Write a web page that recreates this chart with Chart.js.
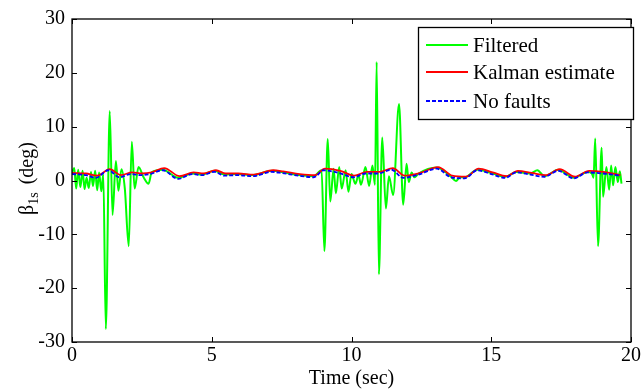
<!DOCTYPE html>
<html>
<head>
<meta charset="utf-8">
<script src="https://cdn.jsdelivr.net/npm/chart.js@4.4.0/dist/chart.umd.min.js"></script>
<style>
html,body{margin:0;padding:0;background:#fff;}
#wrap{width:643px;height:391px;}
</style>
</head>
<body>
<div id="wrap"><canvas id="c" width="643" height="391"></canvas></div>
<script>
// ---- data ----
const seriesNames = ["Filtered", "Kalman estimate", "No faults"];
const xTicks = [0, 5, 10, 15, 20];
const yTicks = [-30, -20, -10, 0, 10, 20, 30];

const tFiltered = [0.00,0.08,0.15,0.22,0.30,0.38,0.45,0.52,0.60,0.68,0.75,0.83,0.90,0.97,1.05,1.12,1.21,1.35,1.45,1.57,1.66,1.77,1.89,2.03,2.14,2.24,2.38,2.56,2.74,2.85,3.25,3.80,4.30,4.65,5.10,5.45,5.90,6.45,7.15,7.50,8.10,8.65,8.93,9.03,9.15,9.24,9.36,9.44,9.56,9.65,9.79,9.89,10.00,10.14,10.25,10.34,10.50,10.63,10.75,10.84,10.90,10.98,11.10,11.23,11.34,11.49,11.70,11.85,11.97,12.05,12.15,12.25,12.40,13.05,13.56,13.74,13.88,14.05,14.50,15.00,15.50,15.90,16.40,16.65,16.90,17.40,17.95,18.45,18.60,18.66,18.72,18.82,18.95,19.00,19.12,19.22,19.29,19.36,19.44,19.53,19.60,19.66];
const filtered = [1.5,2.3,-1.5,2.0,-1.2,1.8,-1.6,0.5,-1.4,1.6,-1.0,1.8,-1.8,1.5,-2.0,1.2,-27.6,12.9,-6.4,3.6,-1.9,2.1,-1.5,-12.2,7.2,-1.5,2.5,0.6,-0.6,1.5,2.0,0.5,1.3,1.1,1.8,1.1,1.2,1.0,1.8,1.6,1.0,0.8,1.9,-13.1,7.7,-3.9,2.2,-2.4,2.5,-1.5,1.9,-2.1,1.2,-0.6,1.0,-0.8,2.5,-1.0,2.8,-0.8,22.0,-17.4,8.0,-5.2,0.8,-2.7,14.2,-4.5,3.1,-0.3,1.5,0.6,1.3,2.4,0.7,-0.1,0.6,0.6,2.0,1.4,0.7,1.6,1.3,1.9,0.8,2.0,0.5,1.6,1.3,0.5,7.8,-12.2,6.1,-3.0,2.5,-1.7,2.8,-0.9,2.5,-0.3,1.7,-0.6];

const tKalman = [0.00,0.50,0.90,1.35,1.75,2.15,2.50,2.85,3.30,3.85,4.35,4.70,5.15,5.50,5.95,6.50,7.20,7.55,8.15,8.70,9.05,9.60,10.10,10.55,11.00,11.48,11.90,12.45,13.10,13.60,14.10,14.55,15.05,15.55,15.95,16.45,16.95,17.45,18.00,18.50,19.00,19.62];
const kalman = [1.4,1.3,0.9,2.1,1.0,1.5,1.3,1.5,2.3,0.8,1.5,1.3,1.9,1.3,1.3,1.1,1.9,1.7,1.2,1.0,2.2,1.8,0.9,1.6,1.6,2.3,0.9,1.4,2.5,0.9,0.7,2.2,1.5,0.8,1.8,1.4,1.0,2.1,0.7,1.8,1.6,1.0];

const tNoFaults = [0.00,0.50,0.85,1.30,1.70,2.10,2.45,2.80,3.25,3.80,4.30,4.65,5.10,5.45,5.90,6.45,7.15,7.50,8.10,8.65,9.00,9.55,10.07,10.50,10.96,11.43,11.85,12.40,13.05,13.56,14.05,14.50,15.00,15.50,15.90,16.40,16.90,17.40,17.95,18.45,19.00,19.60];
const noFaults = [1.2,1.0,0.5,1.9,0.6,1.2,1.0,1.2,1.9,0.3,1.2,1.0,1.6,0.9,1.0,0.8,1.6,1.4,0.9,0.6,1.9,1.4,0.6,1.3,1.3,2.0,0.5,1.1,2.2,0.6,0.4,1.9,1.2,0.5,1.5,1.1,0.7,1.8,0.4,1.5,1.3,0.9];

const colors = ["#00ff00", "#ff0000", "#0000ff"];
const FONT = "'Liberation Serif','Times New Roman',serif";

function pts(ts, vs){ return ts.map((t,i)=>({x:t, y:vs[i]})); }

// frame + inward ticks (MATLAB style)
const framePlugin = {
  id: 'frame',
  afterDatasetsDraw(chart){
    const {ctx, chartArea:a, scales:{x, y}} = chart;
    ctx.save();
    ctx.strokeStyle = '#000';
    ctx.lineWidth = 1.3;
    ctx.strokeRect(a.left, a.top, a.right - a.left, a.bottom - a.top);
    ctx.lineWidth = 1;
    const L = 5;
    ctx.beginPath();
    xTicks.forEach(v=>{
      const px = Math.round(x.getPixelForValue(v)) + 0.5;
      ctx.moveTo(px, a.bottom); ctx.lineTo(px, a.bottom - L);
      ctx.moveTo(px, a.top); ctx.lineTo(px, a.top + L);
    });
    yTicks.forEach(v=>{
      const py = Math.round(y.getPixelForValue(v)) + 0.5;
      ctx.moveTo(a.left, py); ctx.lineTo(a.left + L, py);
      ctx.moveTo(a.right, py); ctx.lineTo(a.right - L, py);
    });
    ctx.stroke();
    ctx.restore();
  },
  afterDraw(chart){
    const {ctx, chartArea:a} = chart;
    ctx.save();
    // y-axis title with subscript
    const cy = (a.top + a.bottom) / 2;
    ctx.translate(26, cy - 2);
    ctx.rotate(-Math.PI/2);
    ctx.fillStyle = '#000';
    ctx.textBaseline = 'alphabetic';
    const f1 = "20px " + FONT, f2 = "14px " + FONT;
    ctx.font = f1; const wB = ctx.measureText('\u03B2').width;
    ctx.font = f2; const wS = ctx.measureText('1s').width;
    ctx.font = f1; const wD = ctx.measureText(' (deg)').width;
    const total = wB + wS + 3 + wD;
    let xx = -total/2;
    const base = 7;
    ctx.font = f1; ctx.textAlign = 'left';
    ctx.fillText('\u03B2', xx, base); xx += wB;
    ctx.font = f2; ctx.fillText('1s', xx, base + 5); xx += wS + 3;
    ctx.font = f1; ctx.fillText(' (deg)', xx, base);
    ctx.restore();

    // legend
    ctx.save();
    const bx = 418, by = 27, bw = 215, bh = 92;
    ctx.fillStyle = '#fff';
    ctx.fillRect(bx, by, bw, bh);
    ctx.strokeStyle = '#000'; ctx.lineWidth = 1.3;
    ctx.strokeRect(bx + 0.5, by + 0.5, bw, bh);
    const rows = [45, 72, 101];
    seriesNames.forEach((name, i)=>{
      const ry = rows[i];
      ctx.beginPath();
      ctx.strokeStyle = colors[i];
      ctx.lineWidth = i === 0 ? 2 : 1.8;
      ctx.setLineDash(i === 2 ? [4, 2] : []);
      ctx.moveTo(426, ry); ctx.lineTo(468, ry);
      ctx.stroke();
      ctx.setLineDash([]);
      ctx.fillStyle = '#000';
      ctx.font = "21px " + FONT;
      ctx.textBaseline = 'middle';
      ctx.textAlign = 'left';
      ctx.fillText(name, 473, ry + 1);
    });
    ctx.restore();
  }
};

new Chart(document.getElementById('c'), {
  type: 'line',
  data: {
    datasets: [
      { label: seriesNames[0], data: pts(tFiltered, filtered), borderColor: colors[0], borderWidth: 2, pointRadius: 0, cubicInterpolationMode: 'monotone', order: 3 },
      { label: seriesNames[1], data: pts(tKalman, kalman), borderColor: colors[1], borderWidth: 1.8, pointRadius: 0, cubicInterpolationMode: 'monotone', order: 2 },
      { label: seriesNames[2], data: pts(tNoFaults, noFaults), borderColor: colors[2], borderWidth: 1.8, borderDash: [4, 2], pointRadius: 0, cubicInterpolationMode: 'monotone', order: 1 }
    ]
  },
  options: {
    responsive: false,
    animation: false,
    devicePixelRatio: 1,
    layout: { padding: { top: 15, right: 9, left: 0, bottom: 0 } },
    plugins: { legend: { display: false }, tooltip: { enabled: false } },
    scales: {
      x: {
        type: 'linear', min: 0, max: 20,
        afterBuildTicks(s){ s.ticks = xTicks.map(v=>({value:v})); },
        ticks: { color: '#000', font: { family: FONT, size: 20 }, padding: 2, maxRotation: 0 },
        grid: { display: false, drawTicks: false },
        border: { display: false },
        title: { display: true, text: 'Time (sec)', color: '#000', font: { family: FONT, size: 20 }, padding: { top: 0, bottom: 0 } },
        afterFit(s){ s.height = 49; }
      },
      y: {
        type: 'linear', min: -30, max: 30,
        afterBuildTicks(s){ s.ticks = yTicks.map(v=>({value:v})); },
        ticks: { color: '#000', font: { family: FONT, size: 20 }, padding: 7 },
        grid: { display: false, drawTicks: false },
        border: { display: false },
        afterFit(s){ s.width = 72; }
      }
    }
  },
  plugins: [framePlugin]
});
</script>
</body>
</html>
